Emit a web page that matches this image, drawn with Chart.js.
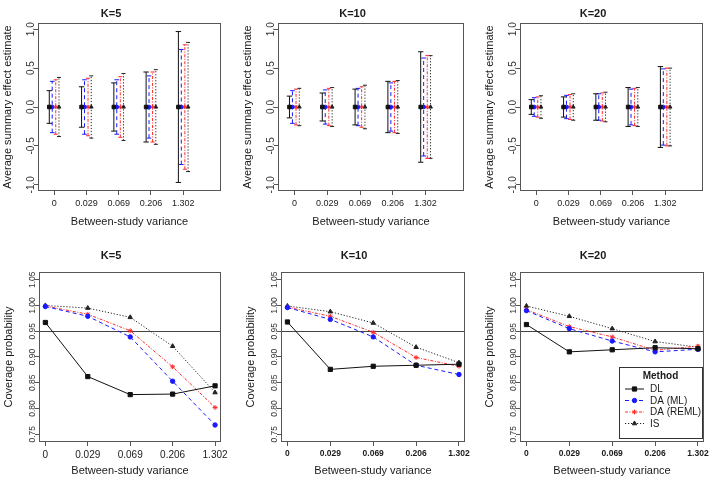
<!DOCTYPE html>
<html>
<head>
<meta charset="utf-8">
<script src="https://cdn.jsdelivr.net/npm/chart.js@4.4.1/dist/chart.umd.min.js"></script>
<style>
html, body { margin: 0; padding: 0; background: #fff; overflow: hidden; }
body { width: 709px; height: 478px; position: relative; }
canvas { position: absolute; }
</style>
</head>
<body>
<canvas id="c1"></canvas>
<canvas id="c2"></canvas>
<canvas id="c3"></canvas>
<canvas id="c4"></canvas>
<canvas id="c5"></canvas>
<canvas id="c6"></canvas>
<script>
let categories = ['0', '0.029', '0.069', '0.206', '1.302'];
let methodNames = ['DL', 'DA (ML)', 'DA (REML)', 'IS'];
let effectTicks = [-1, -0.5, 0, 0.5, 1];
let coverageTicks = [0.75, 0.8, 0.85, 0.9, 0.95, 1.0, 1.05];
let nominalCoverage = 0.95;

// average summary effect estimate per variance
let estimate = [0, 0, 0, 0, 0];

// half widths of the intervals around the estimate
let k5HalfDL   = [0.21, 0.26, 0.31, 0.45, 0.97];
let k5HalfML   = [0.33, 0.35, 0.35, 0.40, 0.74];
let k5HalfREML = [0.35, 0.37, 0.39, 0.45, 0.80];
let k5HalfIS   = [0.38, 0.40, 0.43, 0.48, 0.83];

let k10HalfDL   = [0.14, 0.18, 0.23, 0.33, 0.71];
let k10HalfML   = [0.21, 0.22, 0.24, 0.31, 0.63];
let k10HalfREML = [0.23, 0.24, 0.26, 0.33, 0.66];
let k10HalfIS   = [0.24, 0.25, 0.28, 0.34, 0.66];

let k20HalfDL   = [0.095, 0.13, 0.17, 0.25, 0.52];
let k20HalfML   = [0.12, 0.15, 0.17, 0.23, 0.49];
let k20HalfREML = [0.13, 0.16, 0.18, 0.24, 0.50];
let k20HalfIS   = [0.145, 0.17, 0.19, 0.25, 0.50];

// coverage probability
let k5CovDL   = [0.967, 0.862, 0.827, 0.828, 0.844];
let k5CovML   = [0.998, 0.979, 0.939, 0.853, 0.768];
let k5CovREML = [0.999, 0.983, 0.951, 0.881, 0.802];
let k5CovIS   = [1.000, 0.995, 0.977, 0.921, 0.831];

let k10CovDL   = [0.968, 0.876, 0.882, 0.884, 0.886];
let k10CovML   = [0.996, 0.973, 0.939, 0.884, 0.866];
let k10CovREML = [0.997, 0.979, 0.948, 0.899, 0.882];
let k10CovIS   = [0.999, 0.988, 0.966, 0.919, 0.889];

let k20CovDL   = [0.963, 0.910, 0.914, 0.918, 0.916];
let k20CovML   = [0.990, 0.955, 0.931, 0.910, 0.915];
let k20CovREML = [0.992, 0.959, 0.939, 0.913, 0.921];
let k20CovIS   = [0.999, 0.979, 0.955, 0.930, 0.919];

const FONT = "'Liberation Sans', Arial, sans-serif";
const TEXT = '#1a1a1a';

let methodStyles = [
    { color: '#111111', dash: [], point: 'rect', radius: 3.5, cap: 2.7 },
    { color: '#1a1aff', dash: [4, 3], point: 'circle', radius: 2.6, cap: 2.3 },
    { color: '#ff2a2a', dash: [3, 1.5, 1, 1.5], point: 'star', radius: 2.8, cap: 2.0 },
    { color: '#222222', dash: [1.2, 1.8], point: 'triangle', radius: 3, cap: 2.0 },
];
let barOffsets = [-0.15, -0.06, 0.05, 0.15];

let boxPlugin = {
    id: 'plotBox',
    afterDraw(chart) {
        let a = chart.chartArea;
        let ctx = chart.ctx;
        ctx.save();
        ctx.strokeStyle = '#555';
        ctx.lineWidth = 1;
        ctx.strokeRect(Math.round(a.left) + 0.5, Math.round(a.top) + 0.5,
            Math.round(a.width) - 1, Math.round(a.height) - 1);
        ctx.restore();
    }
};

let refLinePlugin = {
    id: 'refLine',
    beforeDatasetsDraw(chart, args, opts) {
        if (opts.value == null) return;
        let a = chart.chartArea;
        let y = Math.round(chart.scales.y.getPixelForValue(opts.value)) + 0.5;
        let ctx = chart.ctx;
        ctx.save();
        ctx.strokeStyle = '#444';
        ctx.lineWidth = 1;
        ctx.beginPath();
        ctx.moveTo(a.left, y);
        ctx.lineTo(a.right, y);
        ctx.stroke();
        ctx.restore();
    }
};

let methodLegend = {
    id: 'methodLegend',
    afterDraw(chart, args, opts) {
        if (!opts.show) return;
        let a = chart.chartArea;
        let ctx = chart.ctx;
        let w = 83, h = 71;
        let x0 = Math.round(a.right - 2 - w), y0 = Math.round(a.bottom - 4 - h);
        ctx.save();
        ctx.fillStyle = '#fff';
        ctx.fillRect(x0, y0, w, h);
        ctx.strokeStyle = '#333';
        ctx.lineWidth = 1;
        ctx.strokeRect(x0 + 0.5, y0 + 0.5, w, h);
        ctx.fillStyle = TEXT;
        ctx.font = 'bold 10px ' + FONT;
        ctx.textAlign = 'center';
        ctx.textBaseline = 'middle';
        ctx.fillText('Method', x0 + w / 2, y0 + 9);
        ctx.font = '10px ' + FONT;
        ctx.textAlign = 'left';
        chart.data.datasets.forEach((ds, i) => {
            let y = y0 + 22 + i * 11.5;
            ctx.strokeStyle = ds.borderColor;
            ctx.fillStyle = ds.borderColor;
            ctx.setLineDash(ds.borderDash || []);
            ctx.beginPath();
            ctx.moveTo(x0 + 6, y);
            ctx.lineTo(x0 + 25, y);
            ctx.stroke();
            ctx.setLineDash([]);
            Chart.helpers.drawPoint(ctx, { pointStyle: ds.pointStyle, radius: ds.pointRadius, rotation: 0, borderWidth: 1 }, x0 + 15.5, y);
            ctx.fillStyle = TEXT;
            ctx.fillText(ds.label, x0 + 31, y + 0.5);
        });
        ctx.restore();
    }
};

function errorBarSets(halves) {
    let sets = [];
    halves.forEach((hw, m) => {
        let st = methodStyles[m];
        let bars = [];
        hw.forEach((h, i) => {
            let x = i + 1 + barOffsets[m];
            bars.push({ x: x, y: estimate[i] - h }, { x: x, y: estimate[i] + h }, { x: x, y: null });
        });
        sets.push({
            label: methodNames[m], data: bars,
            borderColor: st.color, borderWidth: 1, borderDash: st.dash,
            pointStyle: 'line', pointRadius: st.cap, pointBorderColor: st.color,
            pointBorderWidth: 1, spanGaps: false, fill: false
        });
        sets.push({
            label: methodNames[m],
            data: estimate.map((e, i) => ({ x: i + 1 + barOffsets[m], y: e })),
            showLine: false, pointStyle: st.point, pointRadius: st.radius * 0.72,
            pointBackgroundColor: st.color, pointBorderColor: st.color, pointBorderWidth: 1
        });
    });
    return sets;
}

function coverageSets(series) {
    return series.map((vals, m) => {
        let st = methodStyles[m];
        return {
            label: methodNames[m],
            data: vals.map((v, i) => ({ x: i + 1, y: v })),
            borderColor: st.color, backgroundColor: st.color, borderWidth: 1, borderDash: st.dash,
            pointStyle: st.point, pointRadius: st.radius * 0.85,
            pointBackgroundColor: st.color, pointBorderColor: st.color, pointBorderWidth: 1,
            fill: false
        };
    });
}

function makePanel(id, p) {
    let canvas = document.getElementById(id);
    canvas.width = p.width;
    canvas.height = p.height;
    canvas.style.left = p.left + 'px';
    canvas.style.top = p.top + 'px';
    let tickGrid = { drawOnChartArea: false, drawTicks: true, tickLength: 4, color: '#555', tickColor: '#555' };
    return new Chart(canvas, {
        type: 'line',
        data: { datasets: p.datasets },
        plugins: [refLinePlugin, boxPlugin, methodLegend],
        options: {
            responsive: false,
            animation: false,
            devicePixelRatio: 1,
            layout: { padding: { left: 0, right: p.padRight, top: 0, bottom: 0 } },
            plugins: {
                legend: { display: false },
                tooltip: { enabled: false },
                title: {
                    display: true, text: p.title, color: TEXT,
                    font: { family: FONT, size: 11, weight: 'bold' },
                    padding: { top: p.titleTop, bottom: p.titleBottom }
                },
                refLine: { value: p.refValue },
                methodLegend: { show: !!p.legend }
            },
            scales: {
                x: {
                    type: 'linear', min: p.xMin, max: p.xMax,
                    grid: tickGrid, border: { display: false },
                    afterBuildTicks: s => { s.ticks = categories.map((c, i) => ({ value: i + 1 })); },
                    afterFit: s => { s.height = p.xAxisH; s.paddingLeft = 0; s.paddingRight = 0; },
                    ticks: {
                        autoSkip: false, maxRotation: 0, minRotation: 0, padding: p.xTickPad,
                        color: TEXT, font: { family: FONT, size: p.xTickSize, weight: p.xTickWeight },
                        callback: v => categories[Math.round(v) - 1]
                    },
                    title: {
                        display: true, text: 'Between-study variance', color: TEXT,
                        font: { family: FONT, size: 11 },
                        padding: { top: 0, bottom: p.xTitlePad }
                    }
                },
                y: {
                    type: 'linear', min: p.yMin, max: p.yMax,
                    grid: tickGrid, border: { display: false },
                    afterBuildTicks: s => { s.ticks = p.yTicks.map(v => ({ value: v })); },
                    afterFit: s => { s.width = 38; s.paddingTop = 0; s.paddingBottom = 0; },
                    ticks: {
                        minRotation: 90, maxRotation: 90, crossAlign: 'center', padding: p.yTickPad,
                        color: '#333', font: { family: FONT, size: p.yTickSize },
                        callback: v => v.toFixed(p.yDigits)
                    },
                    title: {
                        display: true, text: p.yTitle, color: TEXT,
                        font: { family: FONT, size: 11 },
                        padding: { top: 1.4, bottom: 0 }
                    }
                }
            }
        }
    });
}

let topRow = {
    top: 0, height: 235, padRight: 4,
    titleTop: 7.4, titleBottom: 2.4, xAxisH: 44, xTitlePad: 6.7, xTickPad: 3,
    xTickSize: 9, xTickWeight: 'normal', yTickSize: 10, yTickPad: -5.8, yDigits: 1,
    xMin: 0.5, xMax: 6.17, yMin: -1.08, yMax: 1.08, yTicks: effectTicks,
    yTitle: 'Average summary effect estimate'
};
let bottomRow = {
    top: 235, height: 243, padRight: 10,
    titleTop: 14.1, titleBottom: 9.7, xAxisH: 36, xTitlePad: 0.4, xTickPad: 3,
    xTickSize: 8.5, xTickWeight: 'bold', yTickSize: 8.5, yTickPad: -5.6, yDigits: 2,
    xMin: 0.85, xMax: 5.14, yMin: 0.735, yMax: 1.065, yTicks: coverageTicks,
    yTitle: 'Coverage probability', refValue: nominalCoverage
};

makePanel('c1', Object.assign({}, topRow, { left: 0, width: 226, title: 'K=5',
    datasets: errorBarSets([k5HalfDL, k5HalfML, k5HalfREML, k5HalfIS]) }));
makePanel('c2', Object.assign({}, topRow, { left: 240, width: 229, title: 'K=10',
    datasets: errorBarSets([k10HalfDL, k10HalfML, k10HalfREML, k10HalfIS]) }));
makePanel('c3', Object.assign({}, topRow, { left: 482, width: 226, title: 'K=20',
    datasets: errorBarSets([k20HalfDL, k20HalfML, k20HalfREML, k20HalfIS]) }));

makePanel('c4', Object.assign({}, bottomRow, { left: 1, width: 230, title: 'K=5',
    xTickSize: 10, xTickWeight: 'normal',
    datasets: coverageSets([k5CovDL, k5CovML, k5CovREML, k5CovIS]) }));
makePanel('c5', Object.assign({}, bottomRow, { left: 243, width: 232, title: 'K=10',
    datasets: coverageSets([k10CovDL, k10CovML, k10CovREML, k10CovIS]) }));
makePanel('c6', Object.assign({}, bottomRow, { left: 482, width: 232, title: 'K=20', legend: true,
    datasets: coverageSets([k20CovDL, k20CovML, k20CovREML, k20CovIS]) }));
</script>
</body>
</html>
